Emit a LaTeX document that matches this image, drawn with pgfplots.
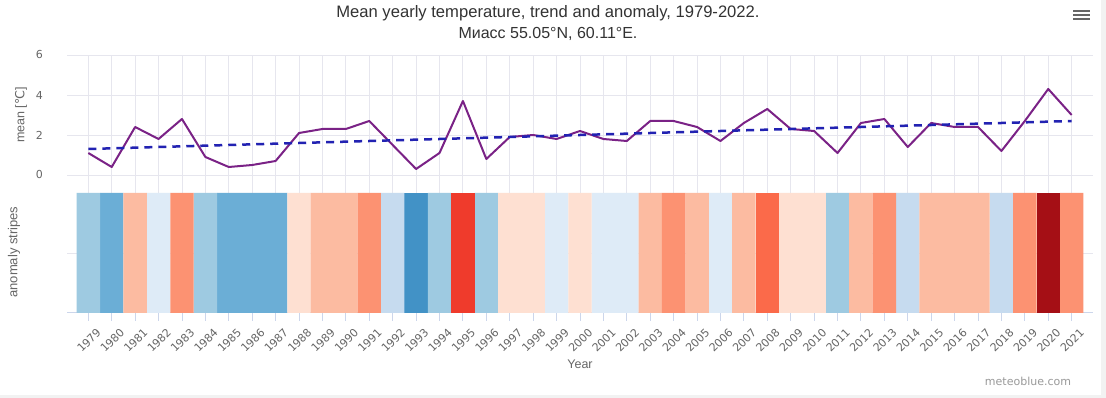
\documentclass[border=0pt]{standalone}
\usepackage{fontspec}
\setmainfont{Liberation Sans}
\newfontfamily\dejavu{DejaVu Sans}
\usepackage{pgfplots}
\pgfplotsset{compat=1.18}
\definecolor{gridc}{HTML}{E6E6EE}
\definecolor{axisc}{HTML}{CCD6EB}
\definecolor{tickc}{HTML}{666666}
\definecolor{titlec}{HTML}{333333}
\definecolor{creditc}{HTML}{999999}
\definecolor{bgc}{HTML}{F2F2F2}
\definecolor{meanc}{RGB}{122,34,134}
\definecolor{trendc}{RGB}{34,34,178}
\definecolor{sA}{HTML}{4292C6}
\definecolor{sB}{HTML}{6BAED6}
\definecolor{sC}{HTML}{9ECAE1}
\definecolor{sD}{HTML}{C6DBEF}
\definecolor{sE}{HTML}{DEEBF7}
\definecolor{sF}{HTML}{FEE0D2}
\definecolor{sG}{HTML}{FCBBA1}
\definecolor{sH}{HTML}{FC9272}
\definecolor{sI}{HTML}{FB6A4A}
\definecolor{sJ}{HTML}{EF3B2C}
\definecolor{sK}{HTML}{A50F15}
\pgfplotsset{stripe/.style={ybar, bar width=1, bar shift=0pt, draw=none, fill=#1}}
\begin{document}
\begin{tikzpicture}
\fill[bgc] (0pt,0pt) rectangle (1106pt,398pt);
\fill[white] (0pt,3pt) rectangle (1101pt,398pt);
\useasboundingbox (0pt,0pt) rectangle (1106pt,398pt);
% titles
\node[text=titlec, font=\fontsize{16.6}{19}\selectfont] at (548pt,385pt) {Mean yearly temperature, trend and anomaly, 1979-2022.};
\node[text=titlec, font=\fontsize{16}{19}\selectfont] at (548pt,364pt) {Миасс 55.05°N, 60.11°E.};
% menu icon
\foreach \yy in {387.3,383,378.7} \draw[tickc, line width=2pt] (1073pt,\yy pt) -- (1090pt,\yy pt);
% axis titles
\node[rotate=90, text=tickc, font=\fontsize{12.5}{14}\selectfont] at (21pt,283pt) {mean [{\dejavu ℃}]};
\node[rotate=90, text=tickc, font=\fontsize{13}{15}\selectfont] at (14pt,146pt) {anomaly stripes};
\node[text=tickc, font=\fontsize{12.5}{14}\selectfont] at (580pt,34pt) {Year};
\node[text=creditc, font=\dejavu\fontsize{11}{13}\selectfont] at (1028pt,17pt) {meteoblue.com};

\begin{axis}[
  at={(67pt,205pt)}, anchor=south west, scale only axis,
  width=1026pt, height=138pt,
  xmin=1978.09, xmax=2021.91, ymin=-0.9, ymax=6,
  xtick={1979,...,2021}, xticklabels={},
  ytick={0,2,4,6},
  xmajorgrids, ymajorgrids,
  grid style={gridc, line width=0.8pt},
  axis line style={draw=none},
  major tick length=0pt,
  /pgf/number format/assume math mode=true,
  yticklabel style={anchor=east, inner sep=0pt, xshift=-24pt, text=tickc, font=\dejavu\fontsize{11}{13}\selectfont},
]
\addplot[meanc, line width=2pt, line join=round] coordinates {
(1979,1.1) (1980,0.4) (1981,2.4) (1982,1.8) (1983,2.8) (1984,0.9) (1985,0.4)
(1986,0.5) (1987,0.7) (1988,2.1) (1989,2.3) (1990,2.3) (1991,2.7) (1992,1.5)
(1993,0.3) (1994,1.1) (1995,3.7) (1996,0.8) (1997,1.9) (1998,2.0) (1999,1.8)
(2000,2.2) (2001,1.8) (2002,1.7) (2003,2.7) (2004,2.7) (2005,2.4) (2006,1.7)
(2007,2.6) (2008,3.3) (2009,2.3) (2010,2.2) (2011,1.1) (2012,2.6) (2013,2.8)
(2014,1.4) (2015,2.6) (2016,2.4) (2017,2.4) (2018,1.2) (2019,2.7) (2020,4.3)
(2021,3.0)};
\addplot[trendc, line width=2.5pt, dash pattern=on 8pt off 6pt] coordinates {(1979,1.3) (2021,2.7)};
\end{axis}

\begin{axis}[
  at={(67pt,85pt)}, anchor=south west, scale only axis,
  width=1026pt, height=120pt,
  xmin=1978.09, xmax=2021.91, ymin=0, ymax=2,
  xtick={1979,...,2021}, ytick={1}, yticklabels={},
  ymajorgrids, grid style={gridc, line width=0.8pt},
  axis x line*=bottom, axis y line*=left,
  x axis line style={-, draw=axisc, line width=1pt},
  y axis line style={draw=none},
  xtick style={draw=axisc, line width=0.8pt},
  ytick style={draw=none},
  tick align=outside, major tick length=8pt,
  /pgf/number format/1000 sep={},
  /pgf/number format/assume math mode=true,
  xticklabel style={rotate=45, anchor=east, inner sep=0pt, yshift=-14pt, xshift=1pt, text=tickc, font=\dejavu\fontsize{11}{13}\selectfont},
]
\addplot[stripe=sA] coordinates {(1993,2)};
\addplot[stripe=sB] coordinates {(1980,2) (1985,2) (1986,2) (1987,2)};
\addplot[stripe=sC] coordinates {(1979,2) (1984,2) (1994,2) (1996,2) (2011,2)};
\addplot[stripe=sD] coordinates {(1992,2) (2014,2) (2018,2)};
\addplot[stripe=sE] coordinates {(1982,2) (1999,2) (2001,2) (2002,2) (2006,2)};
\addplot[stripe=sF] coordinates {(1988,2) (1997,2) (1998,2) (2000,2) (2009,2) (2010,2)};
\addplot[stripe=sG] coordinates {(1981,2) (1989,2) (1990,2) (2003,2) (2005,2) (2007,2) (2012,2) (2015,2) (2016,2) (2017,2)};
\addplot[stripe=sH] coordinates {(1983,2) (1991,2) (2004,2) (2013,2) (2019,2) (2021,2)};
\addplot[stripe=sI] coordinates {(2008,2)};
\addplot[stripe=sJ] coordinates {(1995,2)};
\addplot[stripe=sK] coordinates {(2020,2)};
\end{axis}
\end{tikzpicture}
\end{document}
